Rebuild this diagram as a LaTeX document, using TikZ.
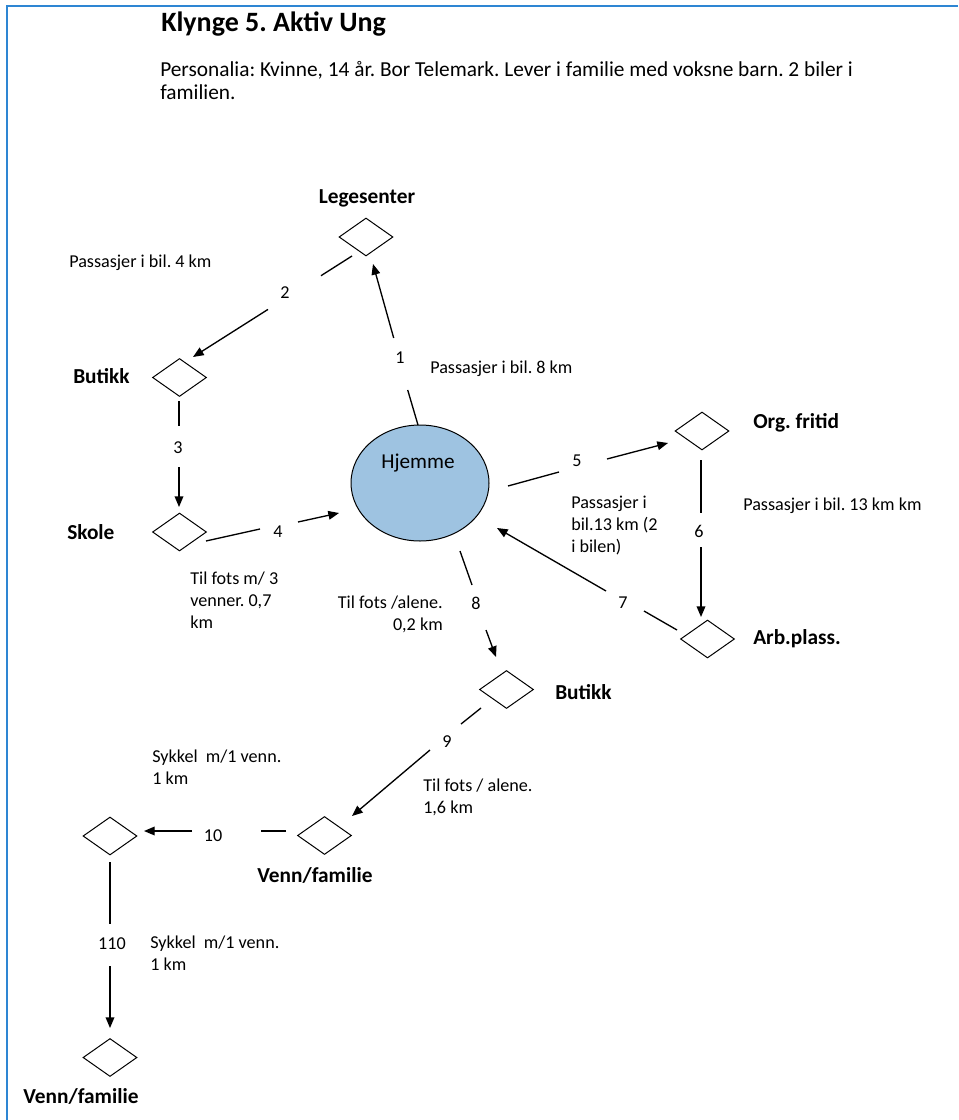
\documentclass[tikz,border=0pt]{standalone}
\usepackage{fontspec}
\setmainfont{Carlito}
\frenchspacing
\usetikzlibrary{shapes.geometric,arrows.meta}
\definecolor{framec}{RGB}{46,134,211}
\definecolor{homec}{RGB}{158,195,225}
\begin{document}
\begin{tikzpicture}[x=0.75pt,y=-0.75pt,
  place/.style={draw=black,line width=0.75pt,diamond,inner sep=0pt,minimum width=40.5pt,minimum height=28.5pt},
  lbl/.style={font=\fontsize{13.6}{16.3}\selectfont,inner sep=0pt,anchor=base west,align=left},
  num/.style={font=\fontsize{13.6}{16.3}\selectfont,inner sep=0pt,anchor=base},
  bold/.style={font=\fontsize{16}{18}\selectfont\bfseries,inner sep=0pt,anchor=base},
  conn/.style={line width=1pt},
  arr/.style={line width=1pt,-{Triangle[length=8pt,width=6.5pt]}}]
\useasboundingbox (0,0) rectangle (958,1120);
% frame
\draw[framec,line width=1.5pt] (7,1120) -- (7,6) -- (958,6);
% header
\node[font=\fontsize{21}{25}\selectfont\bfseries,inner sep=0pt,anchor=base west] (title) at (161,32) {Klynge 5. Aktiv Ung};
\node[font=\fontsize{16}{17.25}\selectfont,inner sep=0pt,anchor=base west,align=left] (pers) at (160,100) {Personalia: Kvinne, 14 år. Bor Telemark. Lever i familie med voksne barn. 2 biler i\\familien.};
% home
\node[ellipse,draw=black,line width=0.75pt,fill=homec,minimum width=103.5pt,minimum height=87pt,inner sep=0pt] (hj) at (420,483) {};
\node[font=\fontsize{15.9}{18}\selectfont,inner sep=0pt,anchor=base] (hjt) at (418,468) {Hjemme};
% places
\node[place] (leg) at (366,237) {};
\node[place] (but1) at (179.5,377.5) {};
\node[place] (sko) at (179.5,532) {};
\node[place] (org) at (702,431) {};
\node[place] (arb) at (707.5,639) {};
\node[place] (but2) at (506.5,689.5) {};
\node[place] (vf1) at (324.5,835.5) {};
\node[place] (d3) at (110,836) {};
\node[place] (vf2) at (110,1057.5) {};
% place labels
\node[bold] (legl) at (367,204) {Legesenter};
\node[bold,anchor=base west] (but1l) at (73,383) {Butikk};
\node[bold,anchor=base west] (skol) at (67,539) {Skole};
\node[bold,anchor=base west] (orgl) at (753,428) {Org. fritid};
\node[bold,anchor=base west] (arbl) at (753,644) {Arb.plass.};
\node[bold,anchor=base west] (but2l) at (555,699) {Butikk};
\node[bold] (vf1l) at (315,882) {Venn/familie};
\node[bold] (vf2l) at (81,1103) {Venn/familie};
% trip labels (base = last line)
\node[lbl] (t2) at (69,267) {Passasjer i bil. 4 km};
\node[lbl] (t1) at (430,373) {Passasjer i bil. 8 km};
\node[lbl] (t6) at (743,510) {Passasjer i bil. 13 km km};
\node[lbl] (t57) at (571,552.4) {Passasjer i\\bil.13 km (2\\i bilen)};
\node[lbl] (t4) at (190,628.4) {Til fots m/ 3\\venner. 0,7\\km};
\node[lbl,anchor=base east,align=right] (t8) at (443,630.7) {Til fots /alene.\\0,2 km};
\node[lbl] (t9) at (423,813.7) {Til fots / alene.\\1,6 km};
\node[lbl] (t10) at (152,784.7) {Sykkel\ \ m/1 venn.\\1 km};
\node[lbl] (t11) at (150,970.7) {Sykkel\ \ m/1 venn.\\1 km};
% numbers
\node[num] (n1) at (400,363) {1};
\node[num] (n2) at (285,298) {2};
\node[num] (n3) at (178,453) {3};
\node[num] (n4) at (278,537) {4};
\node[num] (n5) at (577,466) {5};
\node[num] (n6) at (699,537) {6};
\node[num] (n7) at (623,608) {7};
\node[num] (n8) at (476,609) {8};
\node[num] (n9) at (447,747) {9};
\node[num] (n10) at (213,841) {10};
\node[num] (n11) at (112,949) {110};
% connector end points
\coordinate (e1a) at (418,425); \coordinate (e1b) at (407.7,390);
\coordinate (e1c) at (393.7,338); \coordinate (e1d) at (373,264);
\coordinate (e2a) at (352,256); \coordinate (e2b) at (321,275.7);
\coordinate (e2c) at (268,309.4); \coordinate (e2d) at (193,357);
\coordinate (e3a) at (179,401); \coordinate (e3b) at (179,426);
\coordinate (e3c) at (179,467); \coordinate (e3d) at (179,507);
\coordinate (e4a) at (206,541); \coordinate (e4b) at (260,529);
\coordinate (e4c) at (298,522); \coordinate (e4d) at (339,513);
\coordinate (e5a) at (508,486); \coordinate (e5b) at (559,472);
\coordinate (e5c) at (607,459); \coordinate (e5d) at (668,443);
\coordinate (e6a) at (701,460); \coordinate (e6b) at (701,513);
\coordinate (e6c) at (701,547); \coordinate (e6d) at (701,617);
\coordinate (e7a) at (677,630); \coordinate (e7b) at (644,611);
\coordinate (e7c) at (606,591); \coordinate (e7d) at (497,528);
\coordinate (e8a) at (460,551); \coordinate (e8b) at (472,585);
\coordinate (e8c) at (486,630); \coordinate (e8d) at (496,657);
\coordinate (e9a) at (481,708); \coordinate (e9b) at (461,724);
\coordinate (e9c) at (430,750); \coordinate (e9d) at (352,816);
\coordinate (e10a) at (286,831); \coordinate (e10b) at (261,831);
\coordinate (e10c) at (192,831); \coordinate (e10d) at (144,831);
\coordinate (e11a) at (110,862); \coordinate (e11b) at (110,924);
\coordinate (e11c) at (110,966); \coordinate (e11d) at (110,1028);
% connectors
\draw[conn] (e1a) -- (e1b); \draw[arr] (e1c) -- (e1d);
\draw[conn] (e2a) -- (e2b); \draw[arr] (e2c) -- (e2d);
\draw[conn] (e3a) -- (e3b); \draw[arr] (e3c) -- (e3d);
\draw[conn] (e4a) -- (e4b); \draw[arr] (e4c) -- (e4d);
\draw[conn] (e5a) -- (e5b); \draw[arr] (e5c) -- (e5d);
\draw[conn] (e6a) -- (e6b); \draw[arr] (e6c) -- (e6d);
\draw[conn] (e7a) -- (e7b); \draw[arr] (e7c) -- (e7d);
\draw[conn] (e8a) -- (e8b); \draw[arr] (e8c) -- (e8d);
\draw[conn] (e9a) -- (e9b); \draw[arr] (e9c) -- (e9d);
\draw[conn] (e10a) -- (e10b); \draw[arr] (e10c) -- (e10d);
\draw[conn] (e11a) -- (e11b); \draw[arr] (e11c) -- (e11d);
\end{tikzpicture}
\end{document}
